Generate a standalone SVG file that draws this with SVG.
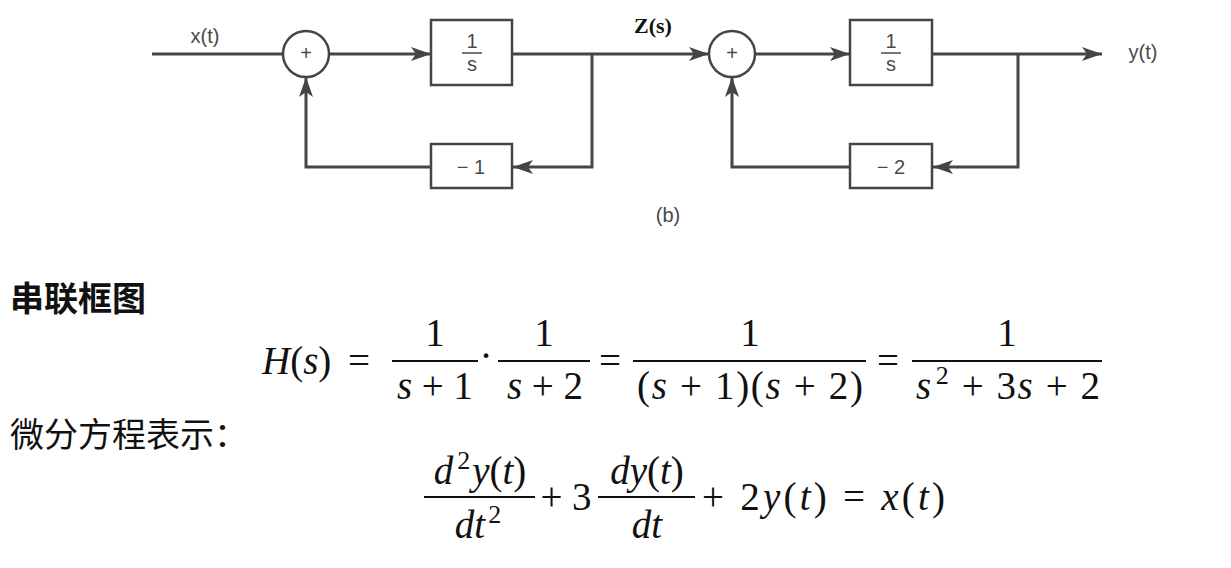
<svg xmlns="http://www.w3.org/2000/svg" width="1231" height="568" viewBox="0 0 1231 568">
<style>
.ln{fill:none;stroke:#454545;stroke-width:3}
.bx{fill:#fff;stroke:#454545;stroke-width:2.5}
.lb{font-family:"Liberation Sans",Arial,sans-serif;font-size:20px;fill:#4a4a4a}
.m{font-family:"Liberation Serif","Times New Roman",serif;font-size:39px;fill:#111}
.mi{font-style:italic}
.bar{stroke:#111;stroke-width:2}
.cj{font-family:"Noto Sans CJK SC",sans-serif;fill:#111}
</style>
<defs>
<marker id="ah" markerUnits="userSpaceOnUse" markerWidth="22" markerHeight="14" refX="20" refY="7" orient="auto">
<path d="M0,0 L20,7 L0,14 L5,7 Z" fill="#454545"/>
</marker>
</defs>
<g id="connectors">
<path class="ln" d="M152,54 H283"/>
<path class="ln" d="M329,54 H431" marker-end="url(#ah)"/>
<path class="ln" d="M512,54 H709" marker-end="url(#ah)"/>
<path class="ln" d="M592,54 V167 H513" marker-end="url(#ah)"/>
<path class="ln" d="M431,167 H306 V77" marker-end="url(#ah)"/>
<path class="ln" d="M755,54 H850" marker-end="url(#ah)"/>
<path class="ln" d="M932,54 H1102" marker-end="url(#ah)"/>
<path class="ln" d="M1018,54 V167 H933" marker-end="url(#ah)"/>
<path class="ln" d="M850,167 H732 V77" marker-end="url(#ah)"/>
</g>
<g id="sum1"><circle class="bx" cx="306" cy="54" r="23"/><text class="lb" x="306" y="60" text-anchor="middle" font-size="15">+</text></g>
<g id="int1"><rect class="bx" x="431" y="20" width="81" height="65"/><text class="lb" x="472" y="48" text-anchor="middle">1</text><line x1="462" y1="53" x2="482" y2="53" stroke="#4a4a4a" stroke-width="1.5"/><text class="lb" x="472" y="71" text-anchor="middle">s</text></g>
<g id="gain1"><rect class="bx" x="431" y="144" width="81" height="44"/><text class="lb" x="471" y="174" text-anchor="middle">− 1</text></g>
<g id="sum2"><circle class="bx" cx="732" cy="54" r="23"/><text class="lb" x="732" y="60" text-anchor="middle" font-size="15">+</text></g>
<g id="int2"><rect class="bx" x="850" y="20" width="82" height="65"/><text class="lb" x="891" y="48" text-anchor="middle">1</text><line x1="881" y1="53" x2="901" y2="53" stroke="#4a4a4a" stroke-width="1.5"/><text class="lb" x="891" y="71" text-anchor="middle">s</text></g>
<g id="gain2"><rect class="bx" x="850" y="144" width="82" height="44"/><text class="lb" x="891" y="174" text-anchor="middle">− 2</text></g>
<g id="labels">
<text class="lb" x="205" y="43" text-anchor="middle">x(t)</text>
<text x="653" y="33" text-anchor="middle" font-family="Liberation Serif,serif" font-weight="bold" font-size="22" fill="#111">Z(s)</text>
<text class="lb" x="1143" y="59" text-anchor="middle">y(t)</text>
<text class="lb" x="668" y="222" text-anchor="middle">(b)</text>
</g>
<g id="text">
<text class="cj" x="10" y="311" font-size="34" font-weight="bold">串联框图</text>
<text class="cj" x="10" y="447" font-size="34">微分方程表示：</text>
</g>
<g id="eq1" class="m">
<text x="262" y="374"><tspan class="mi">H</tspan>(<tspan class="mi">s</tspan>)</text>
<text x="359" y="374" text-anchor="middle">=</text>
<text x="435" y="346" text-anchor="middle">1</text>
<line class="bar" x1="392" y1="361" x2="478" y2="361"/>
<text x="435" y="399" text-anchor="middle"><tspan class="mi">s</tspan> + 1</text>
<text x="486" y="369" text-anchor="middle">·</text>
<text x="544" y="346" text-anchor="middle">1</text>
<line class="bar" x1="498" y1="361" x2="590" y2="361"/>
<text x="545" y="399" text-anchor="middle"><tspan class="mi">s</tspan> + 2</text>
<text x="610" y="374" text-anchor="middle">=</text>
<text x="750" y="346" text-anchor="middle">1</text>
<line class="bar" x1="633" y1="361" x2="866" y2="361"/>
<text x="637" y="399" textLength="226" lengthAdjust="spacing">(<tspan class="mi">s</tspan> + 1)(<tspan class="mi">s</tspan> + 2)</text>
<text x="888" y="374" text-anchor="middle">=</text>
<text x="1007" y="346" text-anchor="middle">1</text>
<line class="bar" x1="912" y1="361" x2="1102" y2="361"/>
<text x="916" y="399" textLength="184" lengthAdjust="spacing"><tspan class="mi">s</tspan><tspan font-size="26" dy="-15" dx="3">2</tspan><tspan dy="15"> + 3</tspan><tspan class="mi">s</tspan> + 2</text>
</g>
<g id="eq2" class="m">
<text x="480" y="484" text-anchor="middle"><tspan class="mi">d</tspan><tspan font-size="26" dy="-15" dx="4">2</tspan><tspan class="mi" dy="15" dx="2">y</tspan>(<tspan class="mi">t</tspan>)</text>
<line class="bar" x1="424" y1="497" x2="535" y2="497"/>
<text x="478" y="538" text-anchor="middle"><tspan class="mi">dt</tspan><tspan font-size="26" dy="-15" dx="3">2</tspan></text>
<text x="566" y="510" text-anchor="middle">+ 3</text>
<text x="647" y="484" text-anchor="middle"><tspan class="mi">dy</tspan>(<tspan class="mi">t</tspan>)</text>
<line class="bar" x1="598" y1="497" x2="695" y2="497"/>
<text x="647" y="538" text-anchor="middle"><tspan class="mi">dt</tspan></text>
<text x="702" y="510" textLength="243" lengthAdjust="spacing">+ 2<tspan class="mi">y</tspan>(<tspan class="mi">t</tspan>) = <tspan class="mi">x</tspan>(<tspan class="mi">t</tspan>)</text>
</g>
</svg>
